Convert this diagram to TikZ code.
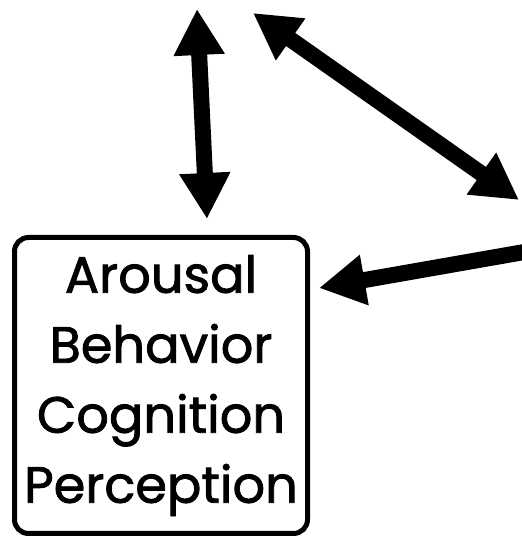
\documentclass[tikz,border=0pt]{standalone}
\usepackage{fontspec}
\setmainfont[FakeBold=1.6]{Poppins}
\usetikzlibrary{arrows.meta, positioning}

\begin{document}
\begin{tikzpicture}[
    x = 1pt, y = 1pt,
    sysbox/.style = {rectangle, draw, line width=5pt, rounded corners=14pt,
      minimum width=293pt, minimum height=296pt, inner sep=0pt,
      align=center, font=\fontsize{51}{70}\selectfont},
    arr/.style = {line width=16pt, -{Triangle[width=48pt, length=46pt]}},
    darr/.style = {line width=16pt,
      {Triangle[width=48pt, length=46pt]}-{Triangle[width=48pt, length=46pt]}}
    ]
  \useasboundingbox (0,0) rectangle (522,539);

  \node[sysbox] (state) at (161,153.5) {Arousal\\Behavior\\Cognition\\Perception} ;

  \coordinate (up) at (197,530) ;
  \coordinate (diagtop) at (253,526) ;
  \coordinate (diagbot) at (519,339) ;
  \coordinate (inflow) at (530,288) ;

  \draw[darr] (up) -- ([shift={(46pt,16pt)}]state.north) ;
  \draw[darr] (diagtop) -- (diagbot) ;
  \draw[arr] (inflow) -- ([shift={(9pt,-53pt)}]state.north east) ;
\end{tikzpicture}
\end{document}
